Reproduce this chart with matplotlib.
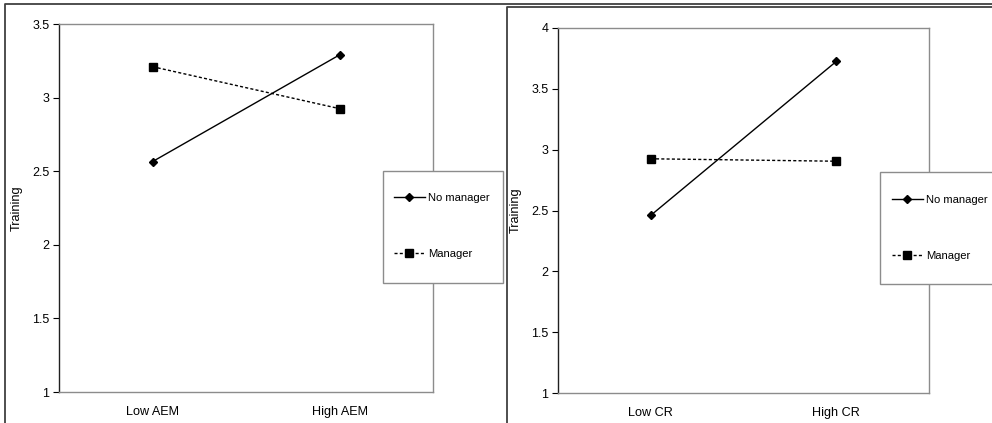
import matplotlib
matplotlib.use("Agg")
import matplotlib.pyplot as plt
from matplotlib.lines import Line2D
from matplotlib.patches import Rectangle

plt.rcParams['font.family'] = ['Liberation Sans', 'DejaVu Sans']

# data
aem_labels = ["Low AEM", "High AEM"]
aem_no_manager = [2.565, 3.29]
aem_manager = [3.21, 2.925]

cr_labels = ["Low CR", "High CR"]
cr_no_manager = [2.46, 3.725]
cr_manager = [2.925, 2.905]

W, H = 992, 423
fig = plt.figure(figsize=(W / 100, H / 100), dpi=100)


def fx(x):
    return x / W


def fy(y):
    return 1 - y / H


def rahmen(x0, y0):
    # outer chart frame (left and top edge only, rest is cut off)
    fig.add_artist(Line2D([fx(x0), fx(x0), fx(W + 5)], [fy(H + 5), fy(y0), fy(y0)],
                          transform=fig.transFigure, color='#404040', lw=1.3, zorder=1))


def panel(rect, labels, no_man, man, ylim, yticks):
    l, t, r, b = rect
    ax = fig.add_axes([fx(l), fy(b), fx(r - l), (b - t) / H])
    x = [0, 1]
    ax.plot(x, no_man, color='black', lw=1.0, marker='D', ms=3.8, label='No manager')
    ax.plot(x, man, color='black', lw=1.0, linestyle=(0, (2.2, 1.6)), marker='s', ms=5.2,
            label='Manager')
    ax.set_xlim(-0.5, 1.5)
    ax.set_ylim(*ylim)
    ax.set_xticks(x)
    ax.set_xticklabels(labels)
    ax.set_yticks(yticks)
    ax.set_yticklabels([f"{v:g}" for v in yticks])
    ax.tick_params(axis='x', length=0, pad=10, labelsize=9.1)
    ax.tick_params(axis='y', length=4, width=0.8, direction='out', pad=3, labelsize=9)
    for s in ['top', 'right', 'bottom']:
        ax.spines[s].set_color('#8c8c8c')
        ax.spines[s].set_linewidth(1.0)
    ax.spines['left'].set_color('#202020')
    ax.spines['left'].set_linewidth(1.0)
    ax.set_ylabel('Training', fontsize=9.2)
    ax.yaxis.set_label_coords(-36 / (r - l), 0.5)
    return ax


def legende(ax, box, hx, hy):
    x0, y0, x1, y1 = box
    fig.add_artist(Rectangle((fx(x0), fy(y1)), fx(x1 - x0), (y1 - y0) / H,
                             transform=fig.transFigure, facecolor='white',
                             edgecolor='#8c8c8c', lw=1.0, zorder=5))
    h, lab = ax.get_legend_handles_labels()
    lg = fig.legend(h, lab, loc='center left', bbox_to_anchor=(fx(hx), fy(hy)),
                    frameon=False, fontsize=8.1, borderpad=0, handlelength=2.8,
                    handletextpad=0.3, labelspacing=4.1)
    lg.set_zorder(6)


rahmen(5, 4)
ax1 = panel((59, 24, 433, 392), aem_labels, aem_no_manager, aem_manager,
            (1, 3.5), [1, 1.5, 2, 2.5, 3, 3.5])
legende(ax1, (383, 171, 503, 283), 388, 226)

rahmen(507, 7)
ax2 = panel((558, 28, 929, 393), cr_labels, cr_no_manager, cr_manager,
            (1, 4), [1, 1.5, 2, 2.5, 3, 3.5, 4])
legende(ax2, (880, 172, 1000, 284), 886, 228)

fig.savefig("out.png", dpi=100)
